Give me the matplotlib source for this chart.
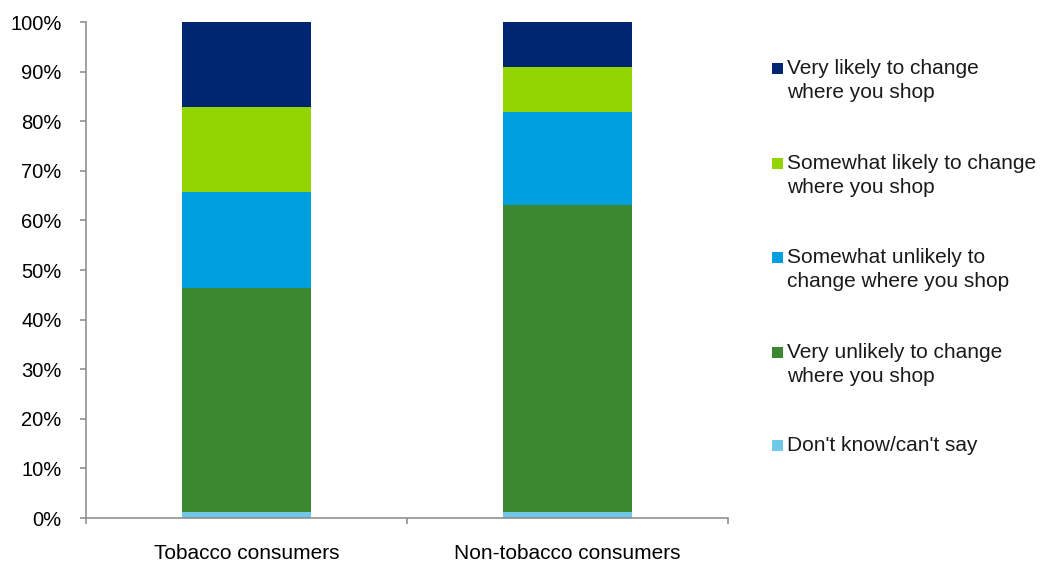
import matplotlib
matplotlib.use("Agg")
import matplotlib.pyplot as plt
from matplotlib.patches import Rectangle
import numpy as np

plt.rcParams['font.family'] = ['Liberation Sans', 'DejaVu Sans']

categories = ["Tobacco consumers", "Non-tobacco consumers"]

# bottom to top
series = [
    "Don't know/can't say",
    "Very unlikely to change\nwhere you shop",
    "Somewhat unlikely to\nchange where you shop",
    "Somewhat likely to change\nwhere you shop",
    "Very likely to change\nwhere you shop",
]
dont_know = [1.2, 1.2]
very_unlikely = [45.2, 62.0]
somewhat_unlikely = [19.4, 18.7]
somewhat_likely = [17.1, 9.1]
very_likely = [17.1, 9.0]
values = [dont_know, very_unlikely, somewhat_unlikely, somewhat_likely, very_likely]
colors = ["#6FC8E8", "#3C8830", "#00A0DF", "#93D500", "#002672"]

W, H = 1042, 562
fig = plt.figure(figsize=(W / 100, H / 100), dpi=100)
ax = fig.add_axes([86 / W, 1 - 518 / H, 642 / W, 496 / H])

x = np.arange(len(categories))
bottom = np.zeros(len(categories))
for vals, col in zip(values, colors):
    ax.bar(x, vals, width=0.4, bottom=bottom, color=col, edgecolor='none')
    bottom += np.array(vals)

ax.set_xlim(-0.5, 1.5)
ax.set_ylim(0, 100)
ax.set_yticks(np.arange(0, 101, 10))
ax.set_yticklabels([f"{v}%" for v in range(0, 101, 10)], fontsize=14.5)
ax.set_xticks([-0.5, 0.5, 1.5], minor=False)
ax.set_xticklabels([])
ax.set_xticks(x, minor=True)
ax.set_xticklabels(categories, minor=True, fontsize=15)
ax.tick_params(axis='x', which='minor', length=0, pad=19)
ax.tick_params(axis='x', which='major', length=4.5, width=1.1, color='#888888')
ax.tick_params(axis='y', length=4.5, width=1.1, color='#888888', pad=13)

for s in ['top', 'right']:
    ax.spines[s].set_visible(False)
for s in ['left', 'bottom']:
    ax.spines[s].set_color('#888888')
    ax.spines[s].set_linewidth(1.1)

# legend, top entry first
ys = [68, 163, 257, 352, 445]
for lab, col, yp in zip(series[::-1], colors[::-1], ys):
    fig.patches.append(Rectangle((772 / W, 1 - (yp + 5.5) / H), 11 / W, 11 / H,
                                 transform=fig.transFigure, facecolor=col,
                                 edgecolor='none'))
    fig.text(787 / W, 1 - (yp - 9) / H, lab, fontsize=15, va='top', ha='left',
             linespacing=1.33, color='#1a1a1a')

fig.savefig("out.png", dpi=100)
